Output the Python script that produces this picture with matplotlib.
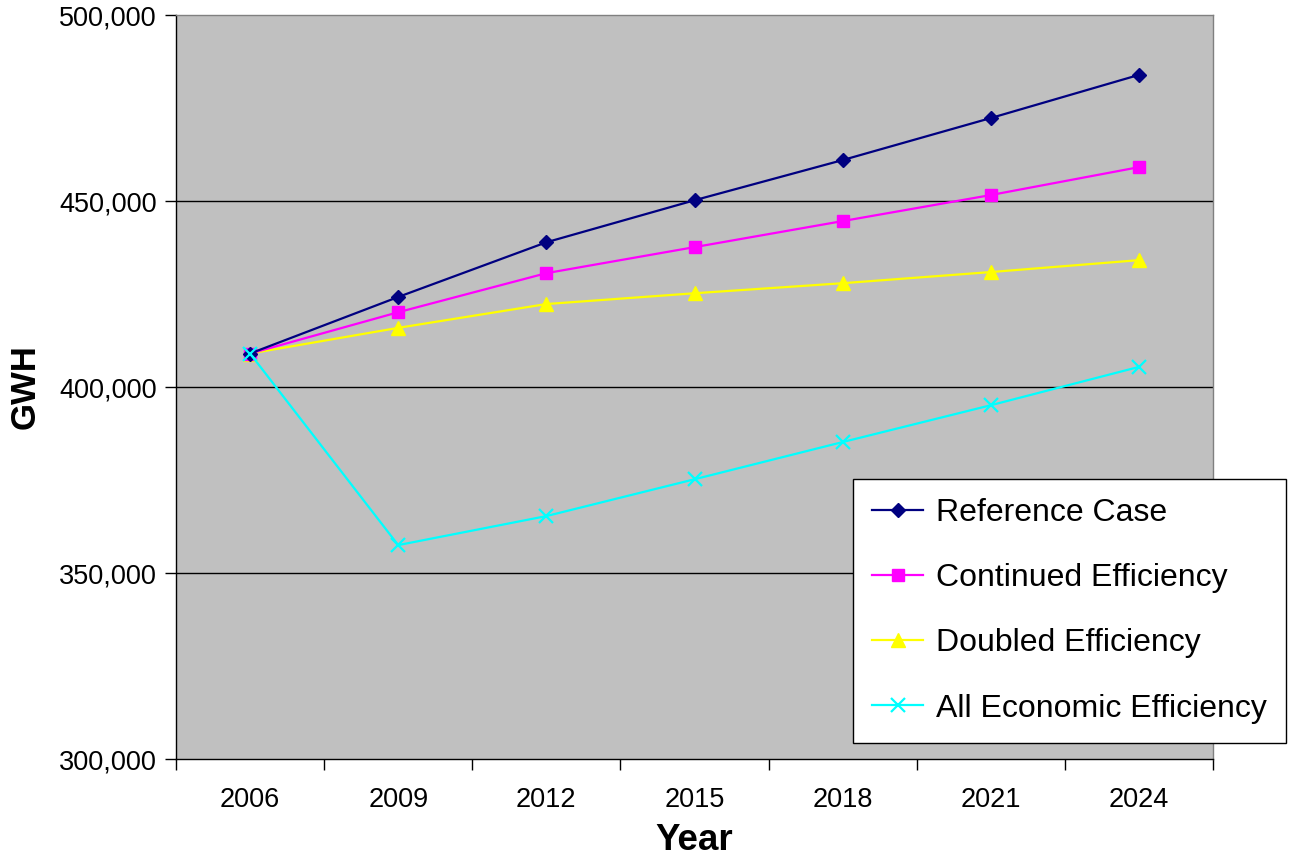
import matplotlib
matplotlib.use("Agg")
import matplotlib.pyplot as plt
from matplotlib.ticker import FuncFormatter, FixedLocator

years = ["2006", "2009", "2012", "2015", "2018", "2021", "2024"]
reference_case = [409000, 424200, 438900, 450200, 461000, 472300, 483900]
continued_eff = [409000, 420100, 430600, 437600, 444600, 451600, 459100]
doubled_eff = [409000, 415900, 422300, 425200, 427900, 430900, 434100]
all_economic = [409000, 357500, 365300, 375200, 385200, 395100, 405400]

plt.rcParams['font.family'] = ['Liberation Sans', 'DejaVu Sans']

fig = plt.figure(figsize=(12.92, 8.6), dpi=100)
ax = fig.add_axes([176/1292, 1-759/860, (1213-176)/1292, (759-15)/860])
ax.set_facecolor('#C0C0C0')

x = list(range(len(years)))
ax.plot(x, reference_case, color='#000080', marker='D', markersize=7.5, lw=1.6, label='Reference Case', zorder=5)
ax.plot(x, continued_eff, color='#FF00FF', marker='s', markersize=8.5, lw=1.6, label='Continued Efficiency', zorder=4)
ax.plot(x, doubled_eff, color='#FFFF00', marker='^', markersize=9.5, lw=1.6, label='Doubled Efficiency', zorder=3)
ax.plot(x, all_economic, color='#00FFFF', marker='x', markersize=9.5, mew=1.6, lw=1.6, label='All Economic Efficiency', zorder=6)

ax.set_xlim(-0.5, len(years) - 0.5)
ax.set_ylim(300000, 500000)
ax.set_yticks([300000, 350000, 400000, 450000, 500000])
ax.yaxis.set_major_formatter(FuncFormatter(lambda v, p: f"{int(v):,}"))
ax.set_xticks(x)
ax.set_xticklabels(years)
ax.xaxis.set_minor_locator(FixedLocator([i - 0.5 for i in range(len(years) + 1)]))
ax.tick_params(axis='x', which='major', length=0, pad=20, labelsize=19.5)
ax.tick_params(axis='x', which='minor', length=8, width=1, direction='out', color='black')
ax.tick_params(axis='y', which='major', length=8, width=1, direction='out', labelsize=19.5, pad=6)

for yv in [350000, 400000, 450000]:
    ax.axhline(yv, color='black', lw=1, zorder=1)

ax.spines['left'].set_color('black')
ax.spines['bottom'].set_color('black')
ax.spines['top'].set_color('#808080')
ax.spines['right'].set_color('#808080')
for s in ax.spines.values():
    s.set_linewidth(1)

ax.set_xlabel('Year', fontsize=26.5, fontweight='bold', labelpad=7)
ax.set_ylabel('GWH', fontsize=25, fontweight='bold', labelpad=12)

leg = fig.legend(loc='upper left', bbox_to_anchor=(853/1292, 1-479/860), fontsize=23,
                 frameon=True, fancybox=False, edgecolor='black', framealpha=1,
                 borderpad=0.6, labelspacing=1.1, handlelength=1.6, handletextpad=0.4,
                 borderaxespad=0)
leg.get_frame().set_linewidth(1)

fig.savefig('out.png', dpi=100)
